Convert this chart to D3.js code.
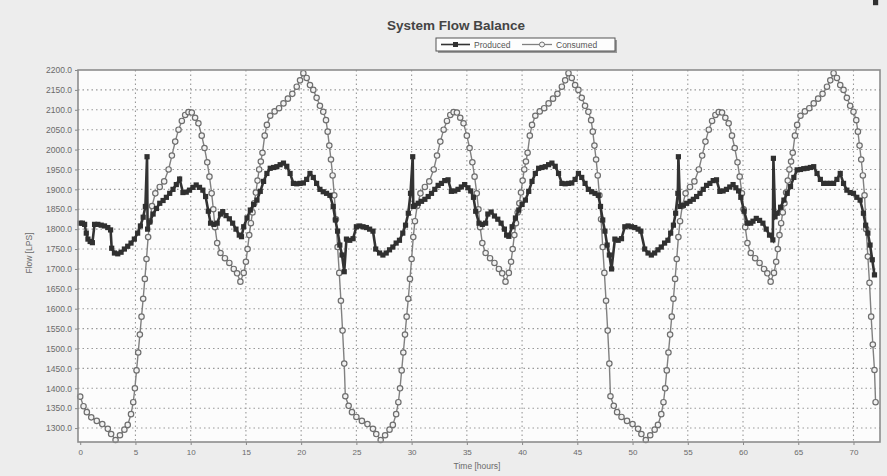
<!DOCTYPE html>
<html>
<head>
<meta charset="utf-8">
<title>System Flow Balance</title>
<script src="https://cdn.jsdelivr.net/npm/d3@7"></script>
<style>
  html, body { margin: 0; padding: 0; background: #ededed; overflow: hidden; }
  svg { display: block; font-family: "Liberation Sans", Arial, sans-serif; }
</style>
</head>
<body>
<svg id="chart" width="887" height="476"></svg>
<script>
// Values (hours, flow in LPS)
const producedHours = [
  0, 0.2, 0.4, 0.55, 0.7, 0.9, 1.1, 1.3, 1.6, 1.9, 2.2, 2.5, 2.75, 2.85, 3.1, 3.4, 3.7, 4.0, 4.3, 4.6, 4.9, 5.2, 5.45, 5.7, 5.9, 6.05, 6.1, 6.3, 6.6, 6.9, 7.2, 7.5, 7.8, 8.1, 8.4, 8.7, 9.0, 9.3, 9.6, 9.9, 10.2, 10.5, 10.8, 11.1, 11.35, 11.6, 11.8, 12.1, 12.4, 12.7, 12.9, 13.2, 13.5, 13.8, 14.1, 14.4, 14.6, 14.8, 15.1, 15.4, 15.7, 16.0, 16.3, 16.6, 16.9, 17.2, 17.5, 17.8, 18.1, 18.4, 18.7, 19.0, 19.3, 19.6, 19.9, 20.2, 20.5, 20.8, 21.1, 21.4, 21.7, 22.0, 22.3, 22.6, 22.9, 23.1, 23.3, 23.5, 23.7, 23.9,
  24.1, 24.4, 24.7, 25.0, 25.3, 25.6, 25.9, 26.2, 26.5, 26.75, 27.1, 27.4, 27.7, 28.0, 28.3, 28.6, 28.9, 29.2, 29.45, 29.7, 29.9, 30.1, 30.15, 30.3, 30.6, 30.9, 31.2, 31.5, 31.8, 32.1, 32.4, 32.7, 33.0, 33.3, 33.6, 33.9, 34.2, 34.5, 34.8, 35.1, 35.35, 35.6, 35.8, 36.1, 36.4, 36.7, 36.9, 37.2, 37.5, 37.8, 38.1, 38.4, 38.6, 38.8, 39.1, 39.4, 39.7, 40.0, 40.3, 40.6, 40.9, 41.2, 41.5, 41.8, 42.1, 42.4, 42.7, 43.0, 43.3, 43.6, 43.9, 44.2, 44.5, 44.8, 45.1, 45.4, 45.7, 46.0, 46.3, 46.6, 46.9, 47.1, 47.3, 47.5, 47.7, 47.9,
  48.1, 48.4, 48.7, 49.0, 49.3, 49.6, 49.9, 50.2, 50.5, 50.75, 51.1, 51.4, 51.7, 52.0, 52.3, 52.6, 52.9, 53.2, 53.45, 53.7, 53.9, 54.1, 54.15, 54.3, 54.6, 54.9, 55.2, 55.5, 55.8, 56.1, 56.4, 56.7, 57.0, 57.3, 57.6, 57.9, 58.2, 58.5, 58.8, 59.1, 59.35, 59.6, 59.8, 60.1, 60.4, 60.7, 60.9, 61.2, 61.5, 61.8, 62.1, 62.4, 62.7, 62.75, 62.9, 63.1, 63.4, 63.7, 64.0, 64.3, 64.6, 64.9, 65.2, 65.5, 65.8, 66.1, 66.4, 66.7, 67.0, 67.3, 67.6, 67.9, 68.2, 68.5, 68.8, 69.1, 69.4, 69.7, 70.0, 70.3, 70.6, 70.9, 71.1, 71.3, 71.5, 71.7, 71.9, 72.0
];
const producedFlow = [
  1815, 1815, 1812, 1790, 1775, 1769, 1766, 1812, 1812, 1810, 1808, 1804, 1798, 1752, 1740, 1738, 1742, 1750, 1757, 1765, 1775, 1790, 1808, 1830, 1857, 1982, 1800, 1818, 1838, 1852, 1865, 1872, 1880, 1890, 1900, 1912, 1926, 1892, 1893, 1898, 1905, 1911, 1905, 1898, 1882, 1845, 1815, 1812, 1815, 1838, 1844, 1834, 1826, 1815, 1800, 1785, 1781, 1806, 1828, 1848, 1862, 1873, 1895, 1920, 1940, 1953, 1955, 1957, 1962, 1966, 1958, 1940, 1915, 1914, 1915, 1916, 1925, 1940, 1930, 1915, 1900, 1894, 1890, 1885, 1857, 1823, 1795, 1760, 1735, 1693,
  1775, 1772, 1776, 1806, 1808, 1806, 1804, 1800, 1795, 1750, 1740, 1735, 1740, 1748, 1755, 1765, 1772, 1790, 1810, 1840, 1890, 1982, 1857, 1860, 1865, 1870, 1875, 1882, 1890, 1900, 1910, 1915, 1922, 1924, 1895, 1896, 1900, 1906, 1912, 1904, 1896, 1880, 1845, 1815, 1812, 1815, 1838, 1843, 1833, 1825, 1815, 1800, 1785, 1782, 1806, 1828, 1848, 1862, 1873, 1895, 1920, 1940, 1953, 1955, 1957, 1962, 1966, 1958, 1940, 1915, 1914, 1915, 1916, 1925, 1940, 1930, 1915, 1900, 1894, 1890, 1885, 1857, 1823, 1795, 1760, 1735, 1700,
  1775, 1772, 1776, 1806, 1808, 1806, 1804, 1800, 1795, 1750, 1740, 1735, 1740, 1748, 1755, 1765, 1772, 1790, 1810, 1840, 1890, 1982, 1857, 1860, 1865, 1870, 1875, 1882, 1890, 1900, 1910, 1915, 1922, 1924, 1895, 1896, 1900, 1906, 1912, 1904, 1896, 1880, 1845, 1815, 1815, 1820, 1827, 1822, 1815, 1800, 1785, 1773, 1978, 1831, 1840, 1855, 1873, 1890, 1907, 1930, 1949, 1950, 1952, 1953, 1955, 1957, 1940, 1925, 1915, 1915, 1915, 1915, 1925, 1940, 1915, 1898, 1892, 1890, 1880, 1873, 1840, 1810, 1790, 1760, 1723, 1685
];
const consumedHours = [
  0, 0.3, 0.6, 1, 1.5, 2, 2.5, 2.8, 3.2, 3.6, 4, 4.3, 4.6, 4.8, 4.95, 5.1, 5.25, 5.4, 5.55, 5.7, 5.85, 6, 6.15, 6.3, 6.5, 6.8, 7.2, 7.6, 8, 8.3, 8.6, 8.9, 9.2, 9.5, 9.8, 10.1, 10.4, 10.7, 11, 11.25, 11.5, 11.7, 11.9, 12.05, 12.2, 12.4, 12.7, 13.1, 13.5, 13.9, 14.2, 14.5, 14.8, 15, 15.15, 15.3, 15.45, 15.6, 15.75, 15.9, 16.05, 16.2, 16.35, 16.5, 16.7, 16.9, 17.2, 17.6, 18, 18.4, 18.8, 19.2, 19.6, 19.9, 20.2, 20.5, 20.8, 21.1, 21.4, 21.7, 22, 22.25, 22.4, 22.55, 22.7, 22.85, 23, 23.15, 23.3, 23.45, 23.6, 23.75, 23.9,
  24, 24.3, 24.6, 25, 25.5, 26, 26.5, 26.8, 27.2, 27.6, 28, 28.3, 28.6, 28.8, 28.95, 29.1, 29.25, 29.4, 29.55, 29.7, 29.85, 30, 30.15, 30.3, 30.5, 30.8, 31.2, 31.6, 32, 32.3, 32.6, 32.9, 33.2, 33.5, 33.8, 34.1, 34.4, 34.7, 35, 35.25, 35.5, 35.7, 35.9, 36.05, 36.2, 36.4, 36.7, 37.1, 37.5, 37.9, 38.2, 38.5, 38.8, 39, 39.15, 39.3, 39.45, 39.6, 39.75, 39.9, 40.05, 40.2, 40.35, 40.5, 40.7, 40.9, 41.2, 41.6, 42, 42.4, 42.8, 43.2, 43.6, 43.9, 44.2, 44.5, 44.8, 45.1, 45.4, 45.7, 46, 46.25, 46.4, 46.55, 46.7, 46.85, 47, 47.15, 47.3, 47.45, 47.6, 47.75, 47.9,
  48, 48.3, 48.6, 49, 49.5, 50, 50.5, 50.8, 51.2, 51.6, 52, 52.3, 52.6, 52.8, 52.95, 53.1, 53.25, 53.4, 53.55, 53.7, 53.85, 54, 54.15, 54.3, 54.5, 54.8, 55.2, 55.6, 56, 56.3, 56.6, 56.9, 57.2, 57.5, 57.8, 58.1, 58.4, 58.7, 59, 59.25, 59.5, 59.7, 59.9, 60.05, 60.2, 60.4, 60.7, 61.1, 61.5, 61.9, 62.2, 62.5, 62.8, 63, 63.15, 63.3, 63.45, 63.6, 63.75, 63.9, 64.05, 64.2, 64.35, 64.5, 64.7, 64.9, 65.2, 65.6, 66, 66.4, 66.8, 67.2, 67.6, 67.9, 68.2, 68.5, 68.8, 69.1, 69.4, 69.7, 70, 70.25, 70.4, 70.55, 70.7, 70.85, 71, 71.15, 71.3, 71.45, 71.6, 71.75, 71.9, 72
];
const consumedFlow = [
  1379, 1355, 1340, 1327, 1318, 1310, 1298, 1285, 1270, 1282, 1296, 1308, 1335, 1365, 1400, 1445, 1490, 1535, 1580, 1625, 1675, 1725, 1780, 1820, 1858, 1890, 1906, 1920, 1950, 1985, 2020, 2050, 2072, 2087, 2094, 2093, 2080, 2066, 2035, 2004, 1968, 1932, 1890, 1850, 1805, 1765, 1740, 1727, 1715, 1700, 1689, 1668, 1690, 1718, 1750, 1785, 1815, 1842, 1865, 1892, 1922, 1950, 1970, 1992, 2035, 2062, 2085, 2096, 2104, 2116, 2128, 2140, 2158, 2174, 2192, 2180, 2162, 2150, 2130, 2110, 2095, 2074, 2045, 2010, 1975, 1935, 1885, 1825, 1755, 1690, 1620, 1545, 1462,
  1380, 1356, 1340, 1328, 1318, 1310, 1298, 1285, 1270, 1282, 1296, 1308, 1335, 1365, 1400, 1445, 1490, 1535, 1580, 1625, 1675, 1725, 1780, 1820, 1858, 1890, 1906, 1920, 1950, 1985, 2020, 2050, 2072, 2087, 2094, 2093, 2080, 2066, 2035, 2004, 1968, 1932, 1890, 1850, 1805, 1765, 1740, 1727, 1715, 1700, 1689, 1668, 1690, 1718, 1750, 1785, 1815, 1842, 1865, 1892, 1922, 1950, 1970, 1992, 2035, 2062, 2085, 2096, 2104, 2116, 2128, 2140, 2158, 2174, 2192, 2180, 2162, 2150, 2130, 2110, 2095, 2074, 2045, 2010, 1975, 1935, 1885, 1825, 1755, 1690, 1620, 1545, 1462,
  1380, 1356, 1340, 1328, 1318, 1310, 1298, 1285, 1270, 1282, 1296, 1308, 1335, 1365, 1400, 1445, 1490, 1535, 1580, 1625, 1675, 1725, 1780, 1820, 1858, 1890, 1906, 1920, 1950, 1985, 2020, 2050, 2072, 2087, 2094, 2093, 2080, 2066, 2035, 2004, 1968, 1932, 1890, 1850, 1805, 1765, 1740, 1727, 1715, 1700, 1689, 1668, 1690, 1718, 1750, 1785, 1815, 1842, 1865, 1892, 1922, 1950, 1970, 1992, 2035, 2062, 2085, 2096, 2104, 2116, 2128, 2140, 2158, 2174, 2192, 2180, 2162, 2150, 2130, 2110, 2095, 2074, 2045, 2010, 1975, 1935, 1885, 1800, 1731, 1665, 1580, 1510, 1446, 1365
];
const xTicks = [0, 5, 10, 15, 20, 25, 30, 35, 40, 45, 50, 55, 60, 65, 70];
const yTicks = [1300, 1350, 1400, 1450, 1500, 1550, 1600, 1650, 1700, 1750, 1800, 1850, 1900, 1950, 2000, 2050, 2100, 2150, 2200];

(function() {
  'use strict';

  const svg = d3.select('#chart');
  const left = 78, right = 880, top = 70, bottom = 442;

  const x = d3.scaleLinear().domain([-0.2, 72.4]).range([left, right]);
  const y = d3.scaleLinear().domain([1265, 2200]).range([bottom, top]);

  const produced = producedHours.map((h, i) => ({ h: h, v: producedFlow[i] }));
  const consumed = consumedHours.map((h, i) => ({ h: h, v: consumedFlow[i] }));

  // plot background
  svg.append('rect')
    .attr('x', left).attr('y', top)
    .attr('width', right - left).attr('height', bottom - top)
    .attr('fill', '#fcfcfc');

  // grid
  const grid = svg.append('g').attr('stroke', '#999').attr('stroke-width', 1.1).attr('stroke-dasharray', '1.5,3');
  grid.selectAll('.gy').data(yTicks.slice(0, -1)).enter().append('line')
    .attr('x1', left).attr('x2', right)
    .attr('y1', d => y(d)).attr('y2', d => y(d));
  grid.selectAll('.gx').data(xTicks.slice(1)).enter().append('line')
    .attr('y1', top).attr('y2', bottom)
    .attr('x1', d => x(d)).attr('x2', d => x(d));

  // axes
  const yAxis = svg.append('g')
    .attr('transform', `translate(${left},0)`)
    .call(d3.axisLeft(y).tickValues(yTicks).tickFormat(d3.format('.1f')).tickSize(3).tickPadding(3));
  const xAxis = svg.append('g')
    .attr('transform', `translate(0,${bottom})`)
    .call(d3.axisBottom(x).tickValues(xTicks).tickFormat(d3.format('d')).tickSize(3).tickPadding(4));
  [yAxis, xAxis].forEach(a => {
    a.select('.domain').remove();
    a.selectAll('line').attr('stroke', '#888');
    a.selectAll('text').attr('fill', '#6a6a6a');
  });
  yAxis.selectAll('text').style('font-size', '8.5px');
  xAxis.selectAll('text').style('font-size', '8px');

  // series
  const line = d3.line().x(d => x(d.h)).y(d => y(d.v));

  svg.append('path').datum(consumed)
    .attr('d', line).attr('fill', 'none')
    .attr('stroke', '#808080').attr('stroke-width', 1.4);
  svg.append('g').selectAll('circle').data(consumed).enter().append('circle')
    .attr('cx', d => x(d.h)).attr('cy', d => y(d.v)).attr('r', 2.7)
    .attr('fill', '#f2f2f2').attr('stroke', '#6e6e6e').attr('stroke-width', 1.2);

  svg.append('path').datum(produced)
    .attr('d', line).attr('fill', 'none')
    .attr('stroke', '#333').attr('stroke-width', 2.6);
  svg.append('g').selectAll('rect').data(produced).enter().append('rect')
    .attr('x', d => x(d.h) - 2.6).attr('y', d => y(d.v) - 2.6)
    .attr('width', 5.2).attr('height', 5.2)
    .attr('fill', '#303030');

  // frame
  svg.append('rect')
    .attr('x', left).attr('y', top)
    .attr('width', right - left).attr('height', bottom - top)
    .attr('fill', 'none').attr('stroke', '#8c8c8c').attr('stroke-width', 1.6);

  // titles
  svg.append('text')
    .attr('x', 456).attr('y', 30).attr('text-anchor', 'middle')
    .attr('fill', '#444').style('font-size', '13.5px').style('font-weight', 'bold')
    .text('System Flow Balance');

  svg.append('text')
    .attr('x', 477).attr('y', 469).attr('text-anchor', 'middle')
    .attr('fill', '#6a6a6a').style('font-size', '8.5px')
    .text('Time [hours]');

  svg.append('text')
    .attr('transform', 'translate(32,253) rotate(-90)').attr('text-anchor', 'middle')
    .attr('fill', '#6a6a6a').style('font-size', '8.5px')
    .text('Flow [LPS]');

  // legend
  const legend = svg.append('g').attr('transform', 'translate(436,38)');
  legend.append('rect').attr('x', 2).attr('y', 2).attr('width', 179).attr('height', 13).attr('fill', '#999');
  legend.append('rect').attr('width', 179).attr('height', 13)
    .attr('fill', '#fdfdfd').attr('stroke', '#555').attr('stroke-width', 1);
  legend.append('line').attr('x1', 5).attr('x2', 34).attr('y1', 6.5).attr('y2', 6.5)
    .attr('stroke', '#333').attr('stroke-width', 1.6);
  legend.append('rect').attr('x', 17).attr('y', 4).attr('width', 5).attr('height', 5).attr('fill', '#303030');
  legend.append('text').attr('x', 38).attr('y', 9.5).attr('fill', '#555').style('font-size', '8.5px').text('Produced');
  legend.append('line').attr('x1', 86).attr('x2', 116).attr('y1', 6.5).attr('y2', 6.5)
    .attr('stroke', '#808080').attr('stroke-width', 1.3);
  legend.append('circle').attr('cx', 106).attr('cy', 6.5).attr('r', 2.5)
    .attr('fill', '#f2f2f2').attr('stroke', '#6e6e6e');
  legend.append('text').attr('x', 120).attr('y', 9.5).attr('fill', '#555').style('font-size', '8.5px').text('Consumed');
})();
</script>
</body>
</html>
